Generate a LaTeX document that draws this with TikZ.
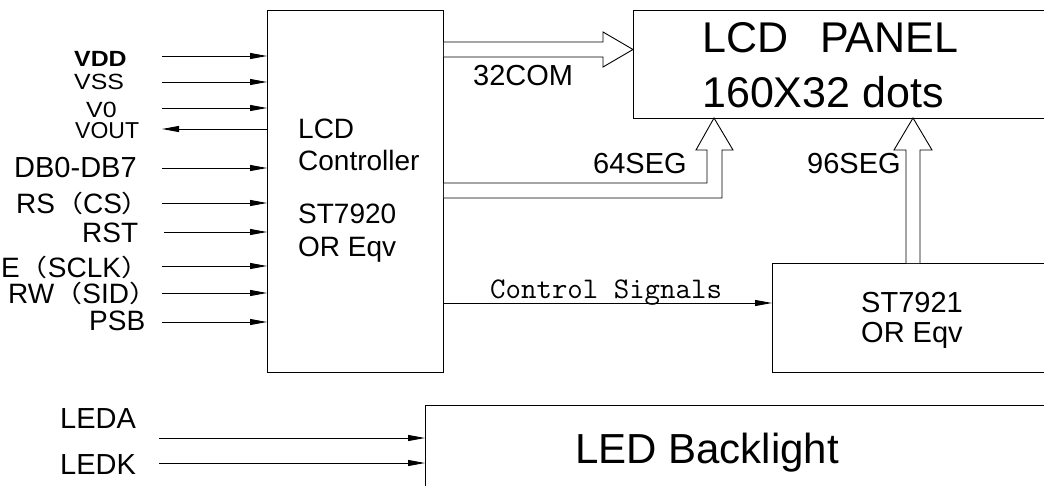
\documentclass[tikz,border=0pt]{standalone}
\usepackage{fontspec}
\setmainfont{Liberation Sans}
\newfontfamily\cjk{Noto Sans CJK SC}
\newfontfamily\widesans[FakeStretch=1.13]{Liberation Sans}
\usetikzlibrary{arrows.meta}
\newcommand{\lp}{\smash{\raisebox{1pt}{\scalebox{1}[0.85]{\cjk （}}}}
\newcommand{\rp}{\smash{\raisebox{1pt}{\scalebox{1}[0.85]{\cjk ）}}}}
\tikzset{
  ln/.style={line width=0.9pt, draw=black},
  sig/.style={ln, -{Triangle[length=17pt,width=6pt]}},
  lbl/.style={inner sep=0pt, anchor=base west, font=\fontsize{28}{32}\selectfont},
  pin/.style={lbl, text height=20pt, text depth=1pt},
  sml/.style={inner sep=0pt, anchor=base west, font=\widesans\fontsize{22}{24}\selectfont, text height=16pt, text depth=0pt},
  big/.style={inner sep=0pt, anchor=base west, font=\fontsize{43}{48}\selectfont},
  blk/.style={ln, inner sep=0pt, rectangle, anchor=north west},
  hollow/.style={ln, fill=white, line join=miter},
}
\begin{document}
\begin{tikzpicture}[x=1pt,y=-1pt]
\useasboundingbox (0,0) rectangle (1044,485);
% blocks
\node[blk, minimum width=176pt, minimum height=362pt] (ctrl) at (267,10) {};
\node[blk, minimum width=500pt, minimum height=108pt] (lcd) at (633,10) {};
\node[blk, minimum width=400pt, minimum height=109pt] (st) at (772,263) {};
\node[blk, minimum width=700pt, minimum height=200pt] (led) at (425,405) {};

% left labels
\node[sml, font=\widesans\fontsize{22}{24}\selectfont\bfseries] (tvdd) at (74,66) {VDD};
\node[sml] (tvss) at (74,89) {VSS};
\node[sml] (tv0) at (86,117) {V0};
\node[sml, font=\fontsize{23}{25}\selectfont] (tvout) at (75,138) {VOUT};
\node[pin, font=\fontsize{29}{32}\selectfont] (tdb) at (14,177) {DB0-DB7};
\node[pin] (trs) at (16,213) {RS\lp CS\rp};
\node[pin] (trst) at (82,242) {RST};
\node[pin] (te) at (1,277) {E\lp SCLK\rp};
\node[pin] (trw) at (8,303) {RW\lp SID\rp};
\node[pin] (tpsb) at (89,330) {PSB};
\node[pin, font=\fontsize{29}{32}\selectfont] (tleda) at (60,428) {LEDA};
\node[pin, font=\fontsize{29}{32}\selectfont] (tledk) at (60,474) {LEDK};

% left connectors
\coordinate (pvdd) at (162,56);
\coordinate (pvss) at (162,82);
\coordinate (pv0) at (162,108);
\coordinate (pvout) at (162,129);
\coordinate (pdb) at (162,168);
\coordinate (prs) at (162,203);
\coordinate (prst) at (164,232);
\coordinate (pe) at (162,266);
\coordinate (prw) at (162,293);
\coordinate (ppsb) at (162,322);
\coordinate (pleda) at (159,438);
\coordinate (pledk) at (159,463);
\foreach \p in {pvdd,pvss,pv0,pdb,prs,prst,pe,prw,ppsb}
  \draw[sig] (\p) -- (\p -| ctrl.west);
\draw[sig] (pvout -| ctrl.west) -- (pvout);
\draw[sig] (pleda) -- (pleda -| led.west);
\draw[sig] (pledk) -- (pledk -| led.west);

% controller text
\node[lbl] (c1) at (298,138) {LCD};
\node[lbl] (c2) at (298,170) {Controller};
\node[lbl] (c3) at (298,223) {ST7920};
\node[lbl] (c4) at (298,256) {OR Eqv};

% LCD panel text
\node[big] (p1) at (702,52) {LCD\hspace{0.75em}PANEL};
\node[big] (p2) at (702,107) {160X32 dots};

% ST7921 text
\node[lbl, font=\fontsize{29}{32}\selectfont] (s1) at (861,312) {ST7921};
\node[lbl, font=\fontsize{29}{32}\selectfont] (s2) at (861,342) {OR Eqv};

% LED text
\node[big, font=\fontsize{42}{46}\selectfont] (l1) at (575,463) {LED Backlight};

% hollow bus arrows
\draw[hollow] (ctrl.east |- 0,42) -- (603,42) -- (603,32) -- (lcd.west |- 0,49.5) -- (603,67) -- (603,57) -- (ctrl.east |- 0,57);
\draw[hollow] (ctrl.east |- 0,183) -- (707,183) -- (707,150) -- (696,150) -- (714,118) -- (733,150) -- (722,150) -- (722,198) -- (ctrl.east |- 0,198);
\draw[hollow] (906,263) -- (906,150) -- (894,150) -- (913,118) -- (932,150) -- (920,150) -- (920,263);

% bus labels
\node[lbl, font=\fontsize{29}{32}\selectfont] (b1) at (473,85) {32COM};
\node[lbl, font=\fontsize{29}{32}\selectfont] (b2) at (593,173) {64SEG};
\node[lbl, font=\fontsize{29}{32}\selectfont] (b3) at (807,173) {96SEG};

% control signals
\coordinate (pcs) at (443,303);
\draw[sig] (ctrl.east |- pcs) -- (st.west |- pcs);
\node[inner sep=0pt, anchor=base west, font=\fontsize{30}{32}\selectfont\ttfamily] (tcs) at (490,298) {Control Signals};
\end{tikzpicture}
\end{document}
